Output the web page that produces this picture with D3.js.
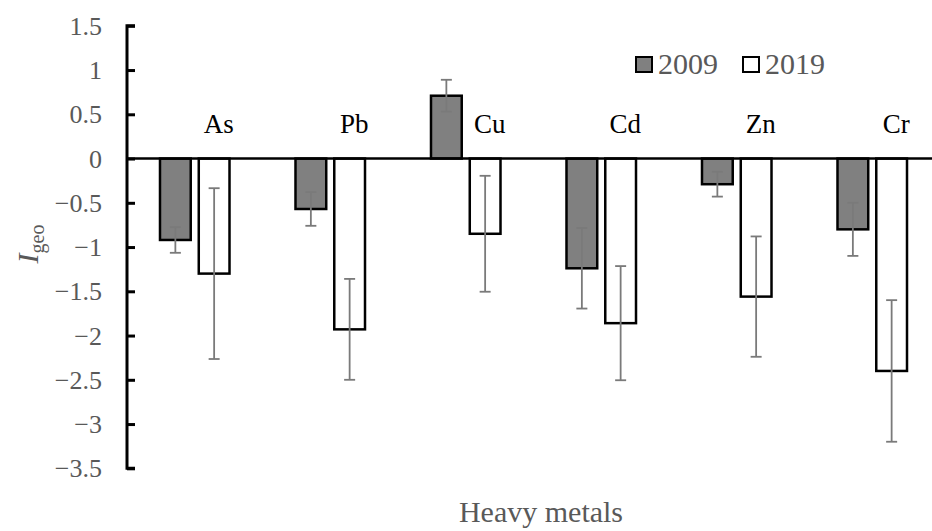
<!DOCTYPE html>
<html>
<head>
<meta charset="utf-8">
<script src="https://cdn.jsdelivr.net/npm/d3@7"></script>
<style>
  body { margin: 0; background: #fff; }
  svg { display: block; }
  svg text { font-family: "Liberation Serif", "Times New Roman", Times, "DejaVu Serif", serif; }
</style>
</head>
<body>
<div id="chart"></div>
<script>
// data
const metals = ['As', 'Pb', 'Cu', 'Cd', 'Zn', 'Cr'];
const years = ['2009', '2019'];
const igeo2009 = [-0.92, -0.57, 0.71, -1.24, -0.29, -0.80];
const err2009 = [0.145, 0.19, 0.18, 0.455, 0.14, 0.30];
const igeo2019 = [-1.30, -1.93, -0.85, -1.86, -1.56, -2.40];
const err2019 = [0.965, 0.57, 0.655, 0.645, 0.68, 0.80];
const yTicks = [1.5, 1, 0.5, 0, -0.5, -1, -1.5, -2, -2.5, -3, -3.5];

const width = 932;
const height = 531;
const serif = '"Liberation Serif", "Times New Roman", Times, "DejaVu Serif", serif';
const fills = { '2009': '#808080', '2019': '#ffffff' };

const rows = [];
metals.forEach((m, i) => {
    rows.push({ metal: m, year: '2009', value: igeo2009[i], err: err2009[i] });
    rows.push({ metal: m, year: '2019', value: igeo2019[i], err: err2019[i] });
});

const svg = d3.select('#chart')
    .append('svg')
    .attr('width', width)
    .attr('height', height)
    .attr('font-family', serif);

const x0 = d3.scaleBand()
    .domain(metals)
    .range([127, 940])
    .paddingInner(0.487)
    .paddingOuter(0.2435);

const x1 = d3.scaleBand()
    .domain(years)
    .range([0, x0.bandwidth()])
    .paddingInner(0.207);

const y = d3.scaleLinear()
    .domain([-3.5, 1.5])
    .range([468.3, 25.8]);

// bars
svg.append('g')
    .selectAll('rect')
    .data(rows)
    .enter().append('rect')
    .attr('x', d => x0(d.metal) + x1(d.year))
    .attr('width', x1.bandwidth())
    .attr('y', d => y(Math.max(0, d.value)))
    .attr('height', d => Math.abs(y(d.value) - y(0)))
    .attr('fill', d => fills[d.year])
    .attr('stroke', '#000')
    .attr('stroke-width', 2.5);

// error bars
const capW = 11;
const err = svg.append('g')
    .attr('stroke', '#7a7a7a')
    .attr('stroke-width', 1.8)
    .selectAll('g')
    .data(rows)
    .enter().append('g')
    .attr('transform', d => `translate(${x0(d.metal) + x1(d.year) + x1.bandwidth() / 2},0)`);

err.append('line')
    .attr('x1', 0).attr('x2', 0)
    .attr('y1', d => y(d.value + d.err))
    .attr('y2', d => y(d.value - d.err));
err.append('line')
    .attr('x1', -capW / 2).attr('x2', capW / 2)
    .attr('y1', d => y(d.value + d.err))
    .attr('y2', d => y(d.value + d.err));
err.append('line')
    .attr('x1', -capW / 2).attr('x2', capW / 2)
    .attr('y1', d => y(d.value - d.err))
    .attr('y2', d => y(d.value - d.err));

// zero line
svg.append('line')
    .attr('x1', 127).attr('x2', width)
    .attr('y1', y(0)).attr('y2', y(0))
    .attr('stroke', '#000')
    .attr('stroke-width', 2.5);

// y axis
const fmt = v => (v < 0 ? '\u2212' : '') + d3.format('~g')(Math.abs(v));
const yAxis = svg.append('g')
    .attr('transform', 'translate(127,0)')
    .call(d3.axisRight(y).tickValues(yTicks).tickSize(8).tickFormat(''));
yAxis.select('.domain')
    .attr('d', `M8,${y(1.5)}H0V${y(-3.5)}H8`)
    .attr('stroke', '#000')
    .attr('stroke-width', 3);
yAxis.selectAll('.tick line')
    .attr('stroke', '#000')
    .attr('stroke-width', 3);

svg.append('g')
    .selectAll('text')
    .data(yTicks)
    .enter().append('text')
    .attr('x', 102)
    .attr('y', d => y(d))
    .attr('dy', '0.35em')
    .attr('text-anchor', 'end')
    .attr('font-size', 26)
    .attr('fill', '#595959')
    .text(fmt);

// metal labels
svg.append('g')
    .selectAll('text')
    .data(metals)
    .enter().append('text')
    .attr('x', d => x0(d) + x0.bandwidth() / 2 + 24)
    .attr('y', 133)
    .attr('text-anchor', 'middle')
    .attr('font-size', 27)
    .attr('fill', '#000')
    .text(d => d);

// legend
const legend = svg.append('g')
    .selectAll('g')
    .data(years)
    .enter().append('g')
    .attr('transform', (d, i) => `translate(${636 + i * 107},0)`);
legend.append('rect')
    .attr('x', 0).attr('y', 57)
    .attr('width', 16).attr('height', 15)
    .attr('fill', d => fills[d])
    .attr('stroke', '#000')
    .attr('stroke-width', 2);
legend.append('text')
    .attr('x', 22).attr('y', 74)
    .attr('font-size', 30)
    .attr('fill', '#595959')
    .text(d => d);

// axis titles
svg.append('text')
    .attr('x', 541)
    .attr('y', 522)
    .attr('text-anchor', 'middle')
    .attr('font-size', 30)
    .attr('fill', '#595959')
    .text('Heavy metals');

const yTitle = svg.append('text')
    .attr('transform', 'translate(38,244) rotate(-90)')
    .attr('text-anchor', 'middle')
    .attr('font-size', 30)
    .attr('fill', '#595959');
yTitle.append('tspan')
    .attr('font-style', 'italic')
    .text('I');
yTitle.append('tspan')
    .attr('font-size', 20)
    .attr('dy', 6)
    .text('geo');
</script>
</body>
</html>
